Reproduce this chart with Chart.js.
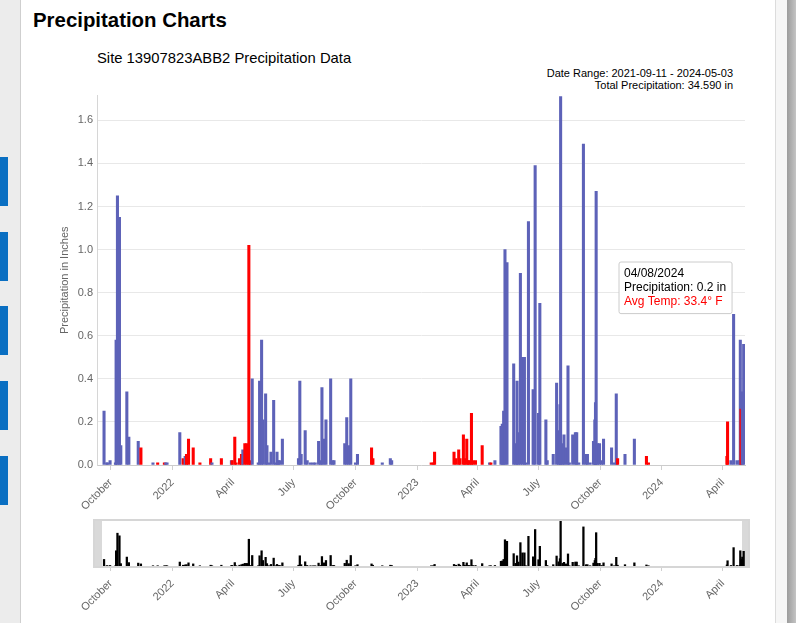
<!DOCTYPE html>
<html>
<head>
<meta charset="utf-8">
<script src="https://cdn.jsdelivr.net/npm/chart.js@4.4.1/dist/chart.umd.min.js"></script>
<style>
  body { margin: 0; width: 796px; height: 623px; overflow: hidden; background: #fff; position: relative;
         font-family: "Liberation Sans", Arial, Helvetica, sans-serif; }
  #side { position: absolute; left: 0; top: 0; width: 20px; height: 623px; background: #ececec; border-right: 1px solid #cfcfcf; }
  .tab { position: absolute; left: 0; width: 8px; height: 49px; background: #0a6fc2; }
  #rside { position: absolute; left: 775px; top: 0; width: 11px; height: 623px; background: #f6f6f6; border-left: 1px solid #dcdcdc; }
  #scroll { position: absolute; left: 787px; top: 0; width: 9px; height: 623px; background: linear-gradient(to right, #9c9c9c, #c4c4c4); }
  h1 { position: absolute; left: 33px; top: 10px; margin: 0; font-size: 20.4px; line-height: 1; font-weight: bold; color: #000; }
  #sub { position: absolute; left: 97px; top: 51px; font-size: 14.8px; line-height: 1; color: #000; }
  .info { position: absolute; right: 63px; font-size: 11px; line-height: 1; color: #000; text-align: right; white-space: nowrap; }
  canvas { position: absolute; left: 20px; }
  #main { top: 85px; }
  #nav { top: 515px; }
</style>
</head>
<body>
<div id="side"></div>
<div class="tab" style="top:157px"></div>
<div class="tab" style="top:232px"></div>
<div class="tab" style="top:306px"></div>
<div class="tab" style="top:381px"></div>
<div class="tab" style="top:456px"></div>
<div id="rside"></div>
<div id="scroll"></div>
<h1>Precipitation Charts</h1>
<div id="sub">Site 13907823ABB2 Precipitation Data</div>
<div class="info" style="top:67.5px">Date Range: 2021-09-11 - 2024-05-03</div>
<div class="info" style="top:80px">Total Precipitation: 34.590 in</div>
<canvas id="main" width="755" height="430"></canvas>
<canvas id="nav" width="755" height="101"></canvas>
<script>
// day 0 = 2021-09-11, last day = 965 (2024-05-03)
const START = Date.UTC(2021, 8, 11);
const LAST_DAY = 965;

// days (since START) with precipitation, and the amount in inches
const rainDays = [10, 14, 15, 19, 27, 28, 30, 33, 35, 44, 47, 61, 65, 83, 90, 100, 102, 104,
  123, 128, 131, 133, 136, 143, 153, 169, 171, 185, 200, 201, 205, 207, 212, 215, 217, 220, 223, 226, 228,
  231, 240, 242, 245, 247, 251, 253, 256, 259, 263, 266, 268, 270, 272, 276,
  300, 302, 304, 310, 313, 318, 322, 325, 330, 333, 335, 338, 341, 348, 351, 353,
  369, 372, 375, 378, 385, 388, 409, 411, 425, 437, 439,
  498, 501, 503, 532, 535, 539, 541, 546, 548, 551, 553, 555, 558, 560, 564, 574, 585, 587, 593,
  602, 604, 606, 608, 611, 621, 624, 626, 628, 631, 634, 637, 639, 643, 650, 653, 658, 660,
  669, 671, 680, 685, 688, 690, 691, 694, 696, 699, 702, 704, 709, 713, 715, 718,
  725, 729, 731, 735, 740, 742, 743, 744, 746, 749, 752, 755, 767, 771, 774, 776, 787, 801, 819, 822,
  939, 940, 945, 949, 954, 958, 959, 960, 962, 964];
const rainInches = [0.25, 0.01, 0.01, 0.02, 0.01, 0.58, 1.25, 1.15, 0.09, 0.34, 0.13, 0.11, 0.08, 0.01, 0.01, 0.01, 0.01, 0.01,
  0.15, 0.03, 0.04, 0.05, 0.12, 0.08, 0.01, 0.03, 0.01, 0.03, 0.02, 0.02, 0.13, 0.01, 0.03, 0.05, 0.07, 0.10, 0.10, 1.02, 0.02,
  0.40, 0.01, 0.39, 0.58, 0.21, 0.33, 0.09, 0.01, 0.06, 0.30, 0.01, 0.06, 0.02, 0.02, 0.12,
  0.03, 0.39, 0.05, 0.16, 0.02, 0.01, 0.01, 0.01, 0.11, 0.02, 0.36, 0.12, 0.21, 0.40, 0.02, 0.02,
  0.10, 0.22, 0.09, 0.40, 0.01, 0.05, 0.08, 0.03, 0.01, 0.03, 0.02,
  0.01, 0.01, 0.06, 0.06, 0.03, 0.07, 0.03, 0.14, 0.03, 0.12, 0.02, 0.02, 0.24, 0.02, 0.02, 0.09, 0.01, 0.01, 0.02,
  0.18, 0.19, 0.25, 1.00, 0.94, 0.47, 0.10, 0.39, 0.15, 0.89, 0.50, 0.50, 0.01, 1.13, 0.35, 1.39, 0.24, 0.75,
  0.21, 0.02, 0.05, 0.38, 0.16, 0.28, 1.71, 0.10, 0.14, 0.08, 0.46, 0.01, 0.14, 0.15, 0.15, 0.01,
  1.49, 0.05, 0.05, 0.01, 0.11, 0.21, 0.29, 1.27, 0.10, 0.10, 0.02, 0.12, 0.08, 0.01, 0.33, 0.03, 0.05, 0.12, 0.04, 0.01,
  0.04, 0.20, 0.02, 0.70, 0.02, 0.02, 0.58, 0.26, 0.34, 0.56];

// days whose average temperature was cold (drawn red)
const coldDays = [65, 90, 100, 128, 133, 136, 143, 153, 169, 185, 201, 205, 207, 212, 215, 220, 223, 226, 228,
  409, 411, 498, 501, 503, 532, 535, 539, 541, 546, 548, 551, 553, 555, 558, 560, 564, 574, 587,
  776, 819, 822, 939, 940, 960];

// x axis ticks
const tickDays = [20, 112, 202, 293, 385, 477, 567, 658, 750, 842, 933];
const tickLabels = ['October', '2022', 'April', 'July', 'October', '2023', 'April', 'July', 'October', '2024', 'April'];

// tooltip shown in the picture
const tipDay = 940;
const tipTemp = 33.4;

Chart.defaults.font.family = '"Liberation Sans", Arial, Helvetica, sans-serif';

const points = rainDays.map((d, i) => ({ x: d, y: rainInches[i] }));
const barColors = rainDays.map(d => coldDays.includes(d) ? '#ff0000' : '#5d62b8');

function fmtDate(d) {
  const t = new Date(START + d * 86400000);
  return String(t.getUTCMonth() + 1).padStart(2, '0') + '/' + String(t.getUTCDate()).padStart(2, '0') + '/' + t.getUTCFullYear();
}

function xAxis(extra) {
  return Object.assign({
    type: 'linear',
    min: -0.5,
    max: LAST_DAY + 1,
    offset: false,
    afterBuildTicks: s => { s.ticks = tickDays.map(v => ({ value: v })); },
    afterFit: s => { s.height = 50; },
    grid: { offset: false, drawOnChartArea: false, tickLength: 5, color: '#d0d0d0' },
    ticks: {
      autoSkip: false, minRotation: 45, maxRotation: 45, padding: 6,
      color: '#666', font: { size: 11 },
      callback: v => tickLabels[tickDays.indexOf(v)]
    }
  }, extra);
}

Chart.Tooltip.positioners.pinned = function () {
  return { x: 601, y: 177 };
};

const main = new Chart(document.getElementById('main'), {
  type: 'bar',
  data: { datasets: [{ data: points, backgroundColor: barColors, barThickness: 2.4 }] },
  options: {
    responsive: false,
    animation: false,
    events: [],
    layout: { padding: { left: 0, right: 30, top: 0, bottom: 0 } },
    scales: {
      x: xAxis({ border: { color: '#ccc' } }),
      y: {
        min: 0, max: 1.715,
        afterFit: s => { s.width = 77; },
        ticks: { stepSize: 0.2, includeBounds: false, callback: v => v.toFixed(1), color: '#666', font: { size: 11 }, padding: 4 },
        grid: { color: '#e8e8e8', drawTicks: false },
        border: { color: '#d6d6d6' },
        title: { display: true, text: 'Precipitation in Inches', color: '#666', font: { size: 11 }, padding: { top: 38, bottom: 0 } }
      }
    },
    plugins: {
      legend: { display: false },
      tooltip: {
        position: 'pinned', xAlign: 'left', yAlign: 'top',
        caretSize: 0, caretPadding: 0, cornerRadius: 2,
        backgroundColor: 'rgba(255,255,255,0.95)', borderColor: '#cccccc', borderWidth: 1,
        titleColor: '#000', bodyColor: '#000', footerColor: '#ff0000',
        titleFont: { size: 12, weight: 'normal', lineHeight: 1.1 },
        bodyFont: { size: 12, lineHeight: 1.1 },
        footerFont: { size: 12, weight: 'normal', lineHeight: 1.1 },
        titleMarginBottom: 1, footerMarginTop: 1, bodySpacing: 0,
        padding: { left: 5, right: 6, top: 5, bottom: 5 },
        displayColors: false, animation: false,
        callbacks: {
          title: items => fmtDate(items[0].raw.x),
          label: item => 'Precipitation: ' + item.raw.y + ' in',
          footer: items => items[0].raw.x === tipDay ? 'Avg Temp: ' + tipTemp + '° F' : ''
        }
      }
    }
  }
});

main.tooltip.setActiveElements([{ datasetIndex: 0, index: rainDays.indexOf(tipDay) }], { x: 0, y: 0 });
main.update();

// navigator frame with the two end handles
const navFrame = {
  id: 'navFrame',
  beforeDatasetsDraw(chart) {
    const { ctx, chartArea: a } = chart;
    ctx.save();
    ctx.fillStyle = '#d9d9d9';
    ctx.fillRect(a.left - 3, a.top - 1, 8, a.bottom - a.top + 2);
    ctx.fillRect(a.right - 3, a.top - 1, 7, a.bottom - a.top + 2);
    ctx.strokeStyle = '#d6d6d6';
    ctx.lineWidth = 2;
    ctx.strokeRect(a.left - 3, a.top - 1, a.right - a.left + 7, a.bottom - a.top + 2);
    ctx.restore();
  }
};

new Chart(document.getElementById('nav'), {
  type: 'bar',
  data: { datasets: [{ data: points, backgroundColor: '#000', barThickness: 1.6 }] },
  options: {
    responsive: false,
    animation: false,
    events: [],
    layout: { padding: { left: 77, right: 30, top: 6, bottom: 0 } },
    scales: {
      x: xAxis({ border: { display: false } }),
      y: { display: false, min: 0, max: 1.715 }
    },
    plugins: { legend: { display: false }, tooltip: { enabled: false } }
  },
  plugins: [navFrame]
});
</script>
</body>
</html>
